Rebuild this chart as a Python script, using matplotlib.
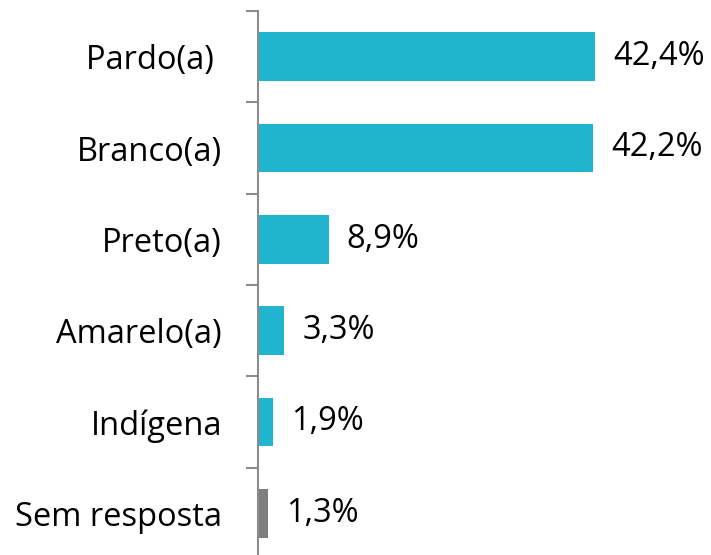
import numpy as np
import matplotlib.pyplot as plt

categorias = ['Pardo(a) ', 'Branco(a)', 'Preto(a)', 'Amarelo(a)', 'Indígena', 'Sem resposta']
valores = [42.4, 42.2, 8.9, 3.3, 1.9, 1.3]
rotulos = ['42,4%', '42,2%', '8,9%', '3,3%', '1,9%', '1,3%']
cores = ['#21B4CF'] * 5 + ['#7F7F7F']

plt.rcParams['font.family'] = ['Open Sans', 'DejaVu Sans']

fig = plt.figure(figsize=(7.11, 5.55), dpi=100)
ax = fig.add_axes([258 / 711, -4 / 555, 1 - 258 / 711, 548 / 555])

y = np.arange(len(categorias))
ax.barh(y, valores, height=0.53, color=cores)
ax.set_ylim(len(categorias) - 0.5, -0.5)
ax.set_xlim(0, 57)

for yi, v, r in zip(y, valores, rotulos):
    ax.annotate(r, (v, yi), xytext=(13, 0), textcoords='offset points',
                va='center', ha='left', fontsize=23.5)

ax.set_yticks(y)
ax.set_yticklabels(categorias, fontsize=23.5)
ax.tick_params(axis='y', which='major', length=0, pad=26)
ax.set_yticks(np.arange(-0.5, len(categorias) + 0.5, 1), minor=True)
ax.tick_params(axis='y', which='minor', length=9, width=1.5, color='#8C8C8C')
ax.set_xticks([])

for s in ['top', 'right', 'bottom']:
    ax.spines[s].set_visible(False)
ax.spines['left'].set_color('#8C8C8C')
ax.spines['left'].set_linewidth(1.5)

fig.savefig('out.png', dpi=100)
